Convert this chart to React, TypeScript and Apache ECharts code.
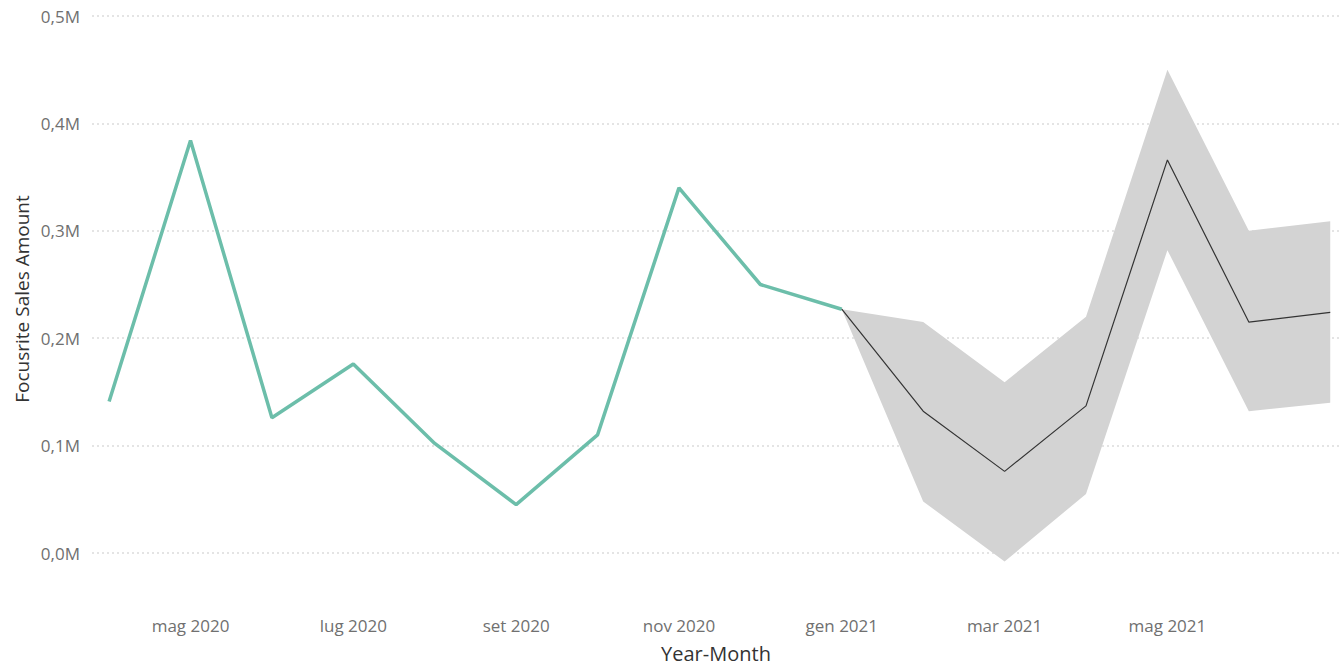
import React, { useEffect, useRef } from "react";
import * as echarts from "echarts";

const months = [
  "apr 2020", "mag 2020", "giu 2020", "lug 2020", "ago 2020", "set 2020",
  "ott 2020", "nov 2020", "dic 2020", "gen 2021", "feb 2021", "mar 2021",
  "apr 2021", "mag 2021", "giu 2021", "lug 2021",
];
// actual sales (M), apr 2020 .. gen 2021
const actual = [0.141, 0.384, 0.126, 0.176, 0.102, 0.045, 0.110, 0.340, 0.250, 0.227];
// forecast (M), gen 2021 .. lug 2021
const forecast = [0.227, 0.132, 0.076, 0.137, 0.366, 0.215, 0.224];
const upper = [0.227, 0.215, 0.159, 0.220, 0.450, 0.300, 0.309];
const lower = [0.227, 0.048, -0.008, 0.055, 0.282, 0.132, 0.140];
const forecastStart = 9;
const labelMonths = [1, 3, 5, 7, 9, 11, 13];

const FONT = "'Segoe UI', 'Open Sans', sans-serif";

export default function App() {
  const ref = useRef<HTMLDivElement>(null);
  useEffect(() => {
    if (!ref.current) return;
    const chart = echarts.init(ref.current, null, { renderer: "svg" });
    const actualData = actual.map((v, i) => [i, v]);
    const fcData = forecast.map((v, i) => [forecastStart + i, v]);
    const bandData = upper.map((v, i) => [forecastStart + i, lower[i], v]);
    chart.setOption({
      animation: false,
      grid: { left: 92, right: 0, top: 16, bottom: 108, containLabel: false },
      xAxis: {
        type: "value",
        min: -0.21,
        max: 15.12,
        axisLine: { show: false },
        axisTick: { show: false },
        splitLine: { show: false },
        name: "Year-Month",
        nameLocation: "middle",
        nameGap: 90,
        nameTextStyle: { color: "#333", fontSize: 20, fontFamily: FONT },
        axisLabel: {
          customValues: labelMonths,
          formatter: (v: number) => months[Math.round(v)] ?? "",
          margin: 64,
          color: "#707070",
          fontSize: 17,
          fontFamily: FONT,
        },
      },
      yAxis: {
        type: "value",
        min: 0,
        max: 0.5,
        interval: 0.1,
        axisLine: { show: false },
        axisTick: { show: false },
        splitLine: { lineStyle: { color: "#dcdcdc", type: [2, 3], width: 1.5 } },
        axisLabel: {
          formatter: (v: number) => v.toFixed(1).replace(".", ",") + "M",
          margin: 12,
          color: "#707070",
          fontSize: 17,
          fontFamily: FONT,
        },
      },
      graphic: [
        {
          type: "text",
          x: 22,
          y: 299,
          rotation: Math.PI / 2,
          style: {
            text: "Focusrite Sales Amount",
            fill: "#333",
            fontSize: 19,
            fontFamily: FONT,
            align: "center",
            verticalAlign: "middle",
          },
        },
      ],
      series: [
        {
          type: "custom",
          data: bandData,
          clip: false,
          silent: true,
          z: 1,
          renderItem: (params: any, api: any) => {
            if (params.dataIndex !== 0) return null;
            const top = bandData.map((d) => api.coord([d[0], d[2]]));
            const bot = bandData.map((d) => api.coord([d[0], d[1]])).reverse();
            return {
              type: "polygon",
              shape: { points: top.concat(bot) },
              style: { fill: "#d3d3d3", stroke: "none" },
            };
          },
          encode: { x: 0, y: [1, 2] },
        },
        {
          type: "line",
          data: actualData,
          symbol: "none",
          lineStyle: { color: "#6cbeaa", width: 3.5 },
          z: 3,
        },
        {
          type: "line",
          data: fcData,
          symbol: "none",
          lineStyle: { color: "#333", width: 1.2 },
          z: 4,
        },
      ],
    });
    return () => chart.dispose();
  }, []);
  return <div ref={ref} style={{ width: 1340, height: 668, position: "absolute", left: 0, top: 0 }} />;
}
